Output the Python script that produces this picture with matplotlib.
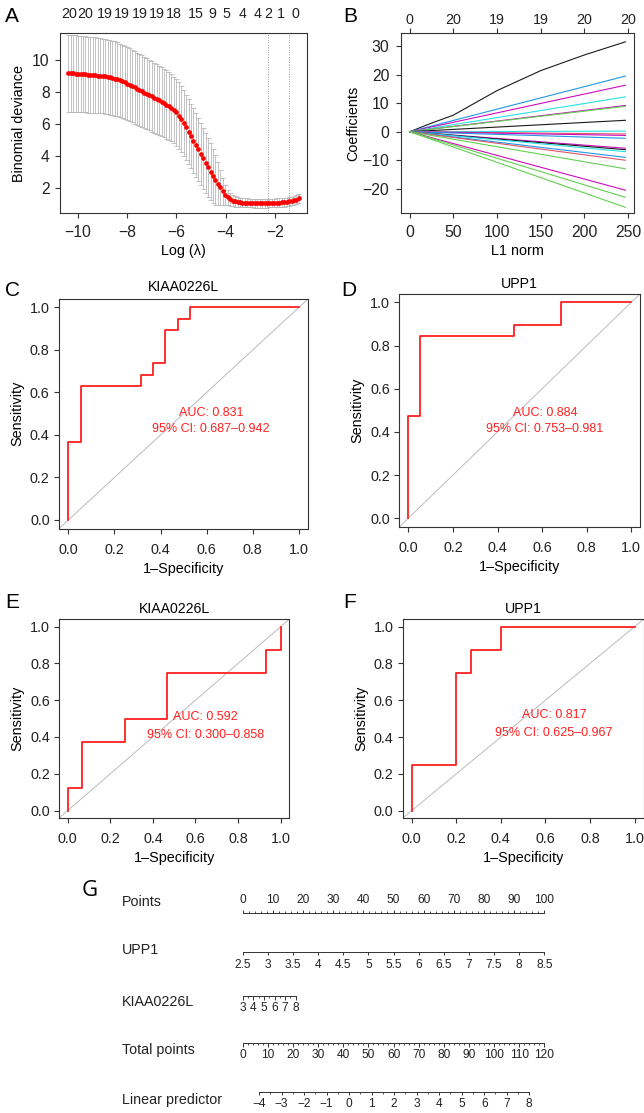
import matplotlib
matplotlib.use("Agg")
import matplotlib.pyplot as plt
import numpy as np

plt.rcParams['font.family'] = ['Liberation Sans', 'DejaVu Sans']

FG = '#333333'
RED = '#FF2020'

# ---------------- A: cross-validated binomial deviance ----------------
cv_loglam_start = -10.38
cv_loglam_step = 0.0995
cv_mean = [9.20, 9.19, 9.18, 9.17, 9.16, 9.15, 9.14, 9.13, 9.11, 9.10, 9.08,
           9.07, 9.05, 9.04, 9.02, 9.00, 8.97, 8.94, 8.90, 8.86, 8.81,
           8.75, 8.69, 8.62, 8.55, 8.47, 8.39, 8.31, 8.23, 8.15, 8.07,
           7.99, 7.91, 7.83, 7.75, 7.67, 7.59, 7.50, 7.42, 7.33, 7.24,
           7.14, 7.03, 6.90, 6.75, 6.55, 6.33, 6.08, 5.82, 5.55, 5.27,
           4.99, 4.71, 4.43, 4.15, 3.87, 3.59, 3.32, 3.05, 2.79, 2.54,
           2.30, 2.07, 1.82, 1.60, 1.44, 1.32, 1.24, 1.18, 1.14, 1.12,
           1.11, 1.10, 1.09, 1.08, 1.08, 1.07, 1.07, 1.07, 1.07, 1.07,
           1.07, 1.08, 1.08, 1.09, 1.10, 1.11, 1.12, 1.13, 1.15, 1.18,
           1.21, 1.25, 1.30, 1.37]
cv_se = [2.40, 2.40, 2.39, 2.39, 2.39, 2.38, 2.38, 2.38, 2.37, 2.37, 2.36,
         2.36, 2.35, 2.35, 2.34, 2.34, 2.33, 2.33, 2.32, 2.32, 2.31,
         2.30, 2.30, 2.29, 2.29, 2.28, 2.27, 2.27, 2.26, 2.25, 2.24,
         2.23, 2.22, 2.21, 2.20, 2.19, 2.18, 2.17, 2.16, 2.15, 2.13,
         2.12, 2.10, 2.09, 2.08, 2.07, 2.06, 2.05, 2.04, 2.03, 2.02,
         2.01, 2.00, 1.98, 1.96, 1.93, 1.89, 1.84, 1.77, 1.68, 1.56,
         1.35, 1.10, 0.85, 0.62, 0.48, 0.40, 0.35, 0.32, 0.30, 0.29,
         0.28, 0.28, 0.28, 0.27, 0.27, 0.27, 0.27, 0.27, 0.27, 0.27,
         0.27, 0.27, 0.27, 0.27, 0.27, 0.27, 0.27, 0.27, 0.27, 0.27,
         0.27, 0.27, 0.27, 0.27]
cv_lambda_min = -2.28
cv_lambda_1se = -1.44
cv_top_pos = [-10.36, -9.68, -8.88, -8.20, -7.49, -6.81, -6.10, -5.22,
              -4.54, -3.98, -3.31, -2.71, -2.27, -1.75, -1.16]
cv_top_lab = ['20', '20', '19', '19', '19', '19', '18', '15',
              '9', '5', '4', '4', '2', '1', '0']

# ---------------- B: coefficient paths ----------------
path_top_norm = [0, 25, 50, 100, 150, 200, 247]
path_top_coef = [0, 3.0, 5.8, 14.4, 21.4, 26.9, 31.5]
path_norm_end = 247
path_end = [19.5, 16.3, 12.2, 9.2, 8.9, 4.0, 0.2, -0.8, -1.3, -2.3,
            -5.8, -6.3, -7.0, -9.0, -10.0, -13.0, -20.5, -23.0, -26.5]
path_col = ['b', 'm', 'c', 'm', 'g', 'k', 'c', 'r', 'm', 'b',
            'm', 'k', 'c', 'b', 'r', 'g', 'm', 'g', 'g']
path_top_ticks = [0, 50, 100, 150, 200, 250]
path_top_lab = ['0', '20', '19', '19', '20', '20']
r_palette = {'k': '#1a1a1a', 'r': '#DF536B', 'g': '#61D04F',
             'b': '#2297E6', 'c': '#28E2E5', 'm': '#CD0BBC'}

# ---------------- C-F: ROC curves ----------------
roc_c_fpr = [0, 0, 0.053, 0.053, 0.316, 0.316, 0.368, 0.368, 0.421, 0.421,
             0.474, 0.474, 0.526, 0.526, 1.0]
roc_c_tpr = [0, 0.368, 0.368, 0.632, 0.632, 0.684, 0.684, 0.737, 0.737,
             0.895, 0.895, 0.947, 0.947, 1.0, 1.0]
roc_d_fpr = [0, 0, 0.053, 0.053, 0.474, 0.474, 0.684, 0.684, 1.0]
roc_d_tpr = [0, 0.474, 0.474, 0.842, 0.842, 0.895, 0.895, 1.0, 1.0]
roc_e_fpr = [0, 0, 0.067, 0.067, 0.267, 0.267, 0.467, 0.467, 0.933, 0.933, 1.0, 1.0]
roc_e_tpr = [0, 0.125, 0.125, 0.375, 0.375, 0.5, 0.5, 0.75, 0.75, 0.875, 0.875, 1.0]
roc_f_fpr = [0, 0, 0.2, 0.2, 0.267, 0.267, 0.4, 0.4, 1.0]
roc_f_tpr = [0, 0.25, 0.25, 0.75, 0.75, 0.875, 0.875, 1.0, 1.0]
roc_titles = ['KIAA0226L', 'UPP1', 'KIAA0226L', 'UPP1']
roc_auc = ['AUC: 0.831', 'AUC: 0.884', 'AUC: 0.592', 'AUC: 0.817']
roc_ci = ['95% CI: 0.687\u20130.942', '95% CI: 0.753\u20130.981',
          '95% CI: 0.300\u20130.858', '95% CI: 0.625\u20130.967']
roc_ticks = [0.0, 0.2, 0.4, 0.6, 0.8, 1.0]

# ---------------- G: nomogram ----------------
nomo_points_major = [0, 10, 20, 30, 40, 50, 60, 70, 80, 90, 100]
upp1_values = [2.5, 3, 3.5, 4, 4.5, 5, 5.5, 6, 6.5, 7, 7.5, 8, 8.5]
upp1_range = (2.5, 8.5)          # -> 0 .. 100 points
kiaa_values = [3, 4, 5, 6, 7, 8]
kiaa_minor = [3.5, 4.5, 5.5, 6.5, 7.5]
kiaa_range = (3, 8)              # -> 0 .. 17.6 points
kiaa_max_points = 17.6
total_values = [0, 10, 20, 30, 40, 50, 60, 70, 80, 90, 100, 110, 120]
total_max = 120
lp_values = [-4, -3, -2, -1, 0, 1, 2, 3, 4, 5, 6, 7, 8]
lp_total = (6.5, 114.0)          # total points at LP = -4 and LP = 8

W, H = 644, 1113
fig = plt.figure(figsize=(W / 100, H / 100), dpi=100)


def panel(left, top, right, bottom):
    # axes placed by its pixel box
    return fig.add_axes([left / W, 1 - bottom / H, (right - left) / W, (bottom - top) / H])


def style(ax, xpad=6.5, ypad=3.0, size=10.4):
    for s in ax.spines.values():
        s.set_color(FG)
        s.set_linewidth(0.8)
    ax.tick_params(direction='out', length=3.8, width=0.8, color=FG,
                   labelcolor='#222222', labelsize=size)
    ax.tick_params(axis='x', pad=xpad)
    ax.tick_params(axis='y', pad=ypad)


def letter(x, y, s, **kw):
    fig.text(x / W, 1 - y / H, s, ha='center', va='center', fontsize=15, **kw)


# ---- A ----
axA = panel(59.7, 33.3, 306.7, 213)
loglam = cv_loglam_start + cv_loglam_step * np.arange(len(cv_mean))
mean = np.array(cv_mean)
se = np.array(cv_se)
bar_col = '#B8B8B8'
axA.vlines(loglam, mean - se, mean + se, color=bar_col, lw=0.6)
axA.hlines(mean + se, loglam - 0.1, loglam + 0.1, color=bar_col, lw=0.6)
axA.hlines(mean - se, loglam - 0.1, loglam + 0.1, color=bar_col, lw=0.6)
axA.plot(loglam, mean, 'o', color='red', ms=3.4, mec='none', zorder=3)
for v in (cv_lambda_min, cv_lambda_1se):
    axA.axvline(v, color='#999999', lw=0.7, ls=(0, (1, 1.5)))
axA.set_xlim(-10.73, -0.71)
axA.set_ylim(0.46, 11.69)
axA.set_xticks([-10, -8, -6, -4, -2])
axA.set_yticks([2, 4, 6, 8, 10])
style(axA, xpad=5, ypad=3.5, size=11.3)
axA.set_xlabel('Log (\u03bb)', fontsize=10.4, labelpad=3)
axA.set_ylabel('Binomial deviance', fontsize=10.4, labelpad=4)
secA = axA.secondary_xaxis('top')
secA.set_xticks(cv_top_pos, labels=cv_top_lab)
secA.tick_params(length=0, pad=9, labelsize=10.3, labelcolor='#222222')
secA.spines['top'].set_visible(False)
letter(12, 17, 'A')

# ---- B ----
axB = panel(401, 33.3, 634, 213)
axB.plot(path_top_norm, path_top_coef, color=r_palette['k'], lw=0.8)
for end, c in zip(path_end, path_col):
    axB.plot([0, path_norm_end], [0, end], color=r_palette[c], lw=0.8)
axB.set_xlim(-9.9, 256.9)
axB.set_ylim(-28.5, 34.5)
axB.set_xticks([0, 50, 100, 150, 200, 250])
axB.set_yticks([-20, -10, 0, 10, 20, 30])
style(axB, xpad=5, ypad=4.5, size=11.3)
axB.set_xlabel('L1 norm', fontsize=10.4, labelpad=3)
axB.set_ylabel('Coefficients', fontsize=10.4, labelpad=2)
secB = axB.secondary_xaxis('top')
secB.set_xticks(path_top_ticks, labels=path_top_lab)
secB.tick_params(direction='out', length=3.8, width=0.8, color=FG, pad=0.5,
                 labelsize=10.3, labelcolor='#222222')
secB.spines['top'].set_visible(False)
letter(350, 17, 'B')

# ---- C-F ----
roc_boxes = [(59.1, 298.8, 308.2, 528.5), (399.4, 293.7, 640.2, 526.9),
             (59.2, 619.3, 289.2, 817.9), (402.8, 619.3, 643.5, 818.0)]
roc_curves = [(roc_c_fpr, roc_c_tpr), (roc_d_fpr, roc_d_tpr),
              (roc_e_fpr, roc_e_tpr), (roc_f_fpr, roc_f_tpr)]
auc_pos = [(0.618, 0.504, 0.426), (0.613, 0.489, 0.412),
           (0.648, 0.509, 0.41), (0.639, 0.52, 0.42)]
title_pad = [5.5, 4.0, 4.3, 4.3]
for i, (bx, (fpr, tpr)) in enumerate(zip(roc_boxes, roc_curves)):
    ax = panel(*bx)
    ax.axline((0, 0), (1, 1), color='#BBBBBB', lw=0.7)
    ax.plot(fpr, tpr, color=RED, lw=1.3)
    ax.set_xlim(-0.04, 1.04)
    ax.set_ylim(-0.04, 1.04)
    ax.set_xticks(roc_ticks, labels=[f'{t:.1f}' for t in roc_ticks])
    ax.set_yticks(roc_ticks, labels=[f'{t:.1f}' for t in roc_ticks])
    style(ax, xpad=6.5, ypad=3)
    ax.set_title(roc_titles[i], fontsize=10.2, pad=title_pad[i])
    ax.set_xlabel('1\u2013Specificity', fontsize=10.4, labelpad=3.5)
    ax.set_ylabel('Sensitivity', fontsize=10.4, labelpad=4)
    tx, ty1, ty2 = auc_pos[i]
    ax.text(tx, ty1, roc_auc[i], color=RED, fontsize=9, ha='center', va='center')
    ax.text(tx, ty2, roc_ci[i], color=RED, fontsize=9, ha='center', va='center')

letter(12, 290, 'C')
letter(349, 290, 'D')
letter(12, 602, 'E')
letter(350, 603, 'F')

# ---- G: nomogram ----
PX = 3.016      # pixels per point
X0 = 242.7      # pixel x of 0 points
axG = fig.add_axes([0, 0, 1, (H - 875) / H])
axG.set_xlim(-X0 / PX, (W - X0) / PX)
axG.set_ylim(H, 875)
axG.axis('off')


def scale_row(y, pos, labels, minor, lab_y, name, name_y, up=False):
    d = -1 if up else 1          # pixel y grows downward
    axG.plot([min(pos + minor), max(pos + minor)], [y, y], color=FG, lw=0.7)
    axG.vlines(pos, y, y + d * 3.5, color=FG, lw=0.7)
    if minor:
        axG.vlines(minor, y, y + d * 2, color=FG, lw=0.6)
    for p, t in zip(pos, labels):
        axG.text(p, lab_y, t, ha='center', va='center', fontsize=8.6, color='#222222')
    axG.text(-40.1, name_y, name, ha='left', va='center', fontsize=10.3, color='#222222')


pts_minor = [v for v in range(0, 101, 2) if v % 10]
scale_row(913.3, nomo_points_major, [str(v) for v in nomo_points_major],
          pts_minor, 900, 'Points', 901.7, up=True)

u0, u1 = upp1_range
upp_pos = [(v - u0) / (u1 - u0) * 100 for v in upp1_values]
scale_row(951.7, upp_pos, [f'{v:g}' for v in upp1_values], [], 965, 'UPP1', 950)

k0, k1 = kiaa_range
kiaa_pos = [(v - k0) / (k1 - k0) * kiaa_max_points for v in kiaa_values]
kiaa_mpos = [(v - k0) / (k1 - k0) * kiaa_max_points for v in kiaa_minor]
scale_row(996, kiaa_pos, [str(v) for v in kiaa_values], kiaa_mpos, 1008.3,
          'KIAA0226L', 1001.7)

tot_pos = [v * 100 / total_max for v in total_values]
tot_minor = [v * 100 / total_max for v in range(0, total_max + 1, 2) if v % 10]
scale_row(1043.3, tot_pos, [str(v) for v in total_values], tot_minor, 1055,
          'Total points', 1050)

t_lo, t_hi = lp_total
lp_pos = [(t_lo + (v - lp_values[0]) / (lp_values[-1] - lp_values[0]) * (t_hi - t_lo))
          * 100 / total_max for v in lp_values]
lp_minor = [(a + b) / 2 for a, b in zip(lp_pos[:-1], lp_pos[1:])]
scale_row(1091.7, lp_pos, [f'{v:d}'.replace('-', '\u2212') for v in lp_values],
          lp_minor, 1104, 'Linear predictor', 1100)

fig.text(89.3 / W, 1 - 890 / H, 'G', ha='center', va='center', fontsize=16,
         family=['Open Sans', 'DejaVu Sans'])

fig.savefig('out.png', dpi=100)
